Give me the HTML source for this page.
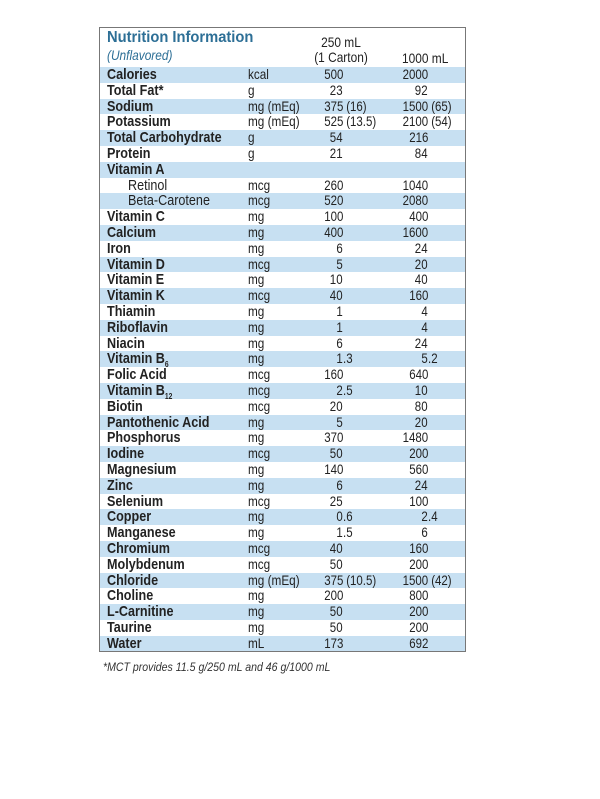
<!DOCTYPE html>
<html><head><meta charset="utf-8"><style>
body{margin:0;width:600px;height:799px;background:#fff;position:relative;font-family:"Liberation Sans",sans-serif;color:#222;overflow:hidden}
#box{position:absolute;left:99px;top:27px;width:367px;height:625px;border:1.5px solid #777;box-sizing:border-box;z-index:2}
.row{position:absolute;left:100px;width:365px;height:15.8px;font-size:15px;line-height:15.8px}
.row.s{background:#c7e0f2}
.row span{position:absolute;top:0;white-space:nowrap}
.n{left:7px;font-weight:bold;transform:scaleX(0.84);transform-origin:left center}
.n.sub{font-weight:normal;left:28px}
.u{left:148px;font-size:14px;transform:scaleX(0.84);transform-origin:left center}
.ip{font-size:14px;transform:scaleX(0.82);transform-origin:right center}
.rp{font-size:14px;transform:scaleX(0.82);transform-origin:left center}
sub{font-size:8px;line-height:0}
</style></head><body>
<div id="box"></div>
<div style="position:absolute;left:107px;top:29px;font-weight:bold;color:#2d6f96;font-size:16px;transform:scaleX(0.92);transform-origin:left">Nutrition Information</div>
<div style="position:absolute;left:107px;top:47px;font-style:italic;color:#2d6f96;font-size:14px;transform:scaleX(0.85);transform-origin:left">(Unflavored)</div>
<div style="position:absolute;left:301px;top:35px;width:80px;text-align:center;font-size:14px;line-height:15px;transform:scaleX(0.85)">250 mL<br>(1 Carton)</div>
<div style="position:absolute;left:402px;top:50px;font-size:14px;transform:scaleX(0.85);transform-origin:left">1000 mL</div>
<div id="rows"></div>
<div style="position:absolute;left:103px;top:660px;font-style:italic;font-size:12px;color:#333;transform:scaleX(0.88);transform-origin:left">*MCT provides 11.5 g/250 mL and 46 g/1000 mL</div>
<script>
const names=["Calories","Total Fat*","Sodium","Potassium","Total Carbohydrate","Protein","Vitamin A","Retinol","Beta-Carotene","Vitamin C","Calcium","Iron","Vitamin D","Vitamin E","Vitamin K","Thiamin","Riboflavin","Niacin","Vitamin B<sub>6</sub>","Folic Acid","Vitamin B<sub>12</sub>","Biotin","Pantothenic Acid","Phosphorus","Iodine","Magnesium","Zinc","Selenium","Copper","Manganese","Chromium","Molybdenum","Chloride","Choline","L-Carnitine","Taurine","Water"];
const units=["kcal","g","mg (mEq)","mg (mEq)","g","g","","mcg","mcg","mg","mg","mg","mcg","mg","mcg","mg","mg","mg","mg","mcg","mcg","mcg","mg","mg","mcg","mg","mg","mcg","mg","mg","mcg","mcg","mg (mEq)","mg","mg","mg","mL"];
const v250=["500","23","375 (16)","525 (13.5)","54","21","","260","520","100","400","6","5","10","40","1","1","6","1.3","160","2.5","20","5","370","50","140","6","25","0.6","1.5","40","50","375 (10.5)","200","50","50","173"];
const v1000=["2000","92","1500 (65)","2100 (54)","216","84","","1040","2080","400","1600","24","20","40","160","4","4","24","5.2","640","10","80","20","1480","200","560","24","100","2.4","6","160","200","1500 (42)","800","200","200","692"];
function cell(v,rx){
  const m=v.match(/^(\d*)(.*)$/);
  return '<span class="ip" style="right:'+(365-rx)+'px">'+m[1]+'</span><span class="rp" style="left:'+rx+'px">'+m[2].replace(/ /g,'&nbsp;')+'</span>';
}
const c=document.getElementById('rows');
names.forEach((n,i)=>{
  const r=document.createElement('div');
  
  
  r.className='row'+(i%2==0?' s':'');
  r.style.top=(67+i*15.8)+'px';
  const sub=(i==7||i==8)?' sub':'';
  r.innerHTML='<span class="n'+sub+'">'+n+'</span><span class="u">'+units[i]+'</span>'+cell(v250[i],243)+cell(v1000[i],328);
  c.appendChild(r);
});
</script>
</body></html>
